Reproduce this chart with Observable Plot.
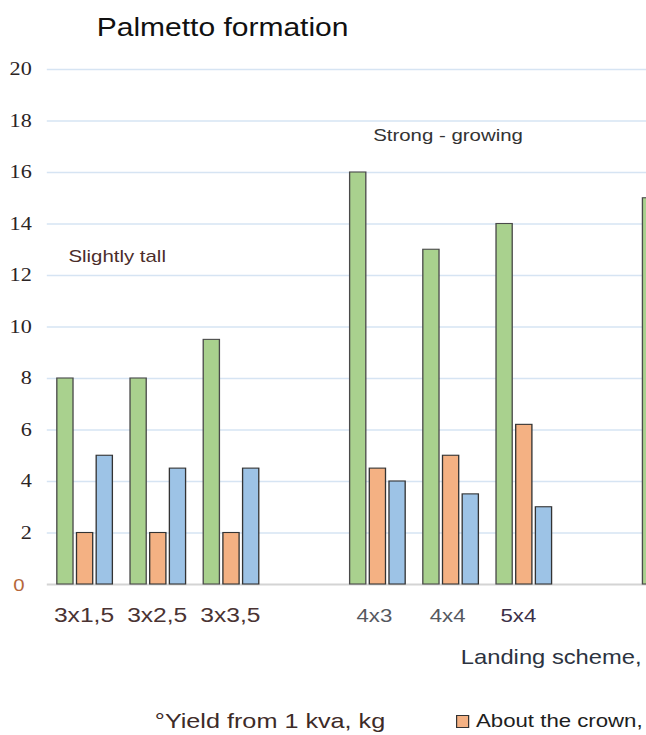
<!DOCTYPE html>
<html>
<head>
<meta charset="utf-8">
<script src="https://cdn.jsdelivr.net/npm/d3@7"></script>
<script src="https://cdn.jsdelivr.net/npm/@observablehq/plot@0.6"></script>
<style>
  html, body { margin: 0; padding: 0; overflow: hidden; background: #fff; width: 646px; height: 735px; }
  #wrap { position: absolute; left: 0; top: 0; width: 589px; height: 735px; transform: scaleX(1.2); transform-origin: 0 0; }
  .t { position: absolute; white-space: nowrap; font-family: "Liberation Sans", Arial, sans-serif; }
  #chart { position: absolute; left: 0; top: 45px; }
</style>
</head>
<body>
<div id="wrap">
  <div class="t" style="left:80.6px; top:15px; font-size:25px; line-height:25px; color:#111;">Palmetto formation</div>
  <div id="chart"></div>
  <div class="t" style="left:311px; top:127px; font-size:17px; line-height:17px; color:#333;">Strong - growing</div>
  <div class="t" style="left:57px; top:248px; font-size:17px; line-height:17px; color:#4b2d2b;">Slightly tall</div>
  <div class="t" style="left:384px; top:648px; font-size:19.8px; line-height:19.8px; color:#2c3340;">Landing scheme,</div>
  <div class="t" style="left:129px; top:710px; font-size:21px; line-height:21px; color:#3d2b28;">°Yield from 1 kva, kg</div>
  <div style="position:absolute; left:380px; top:715px; width:9px; height:11px; background:#f4b183; border:1px solid #333;"></div>
  <div class="t" style="left:396.7px; top:712px; font-size:18.5px; line-height:18.5px; color:#1e1e1e;">About the crown,</div>
</div>
<script>
// x slots (empty strings are the visual gaps between planting-scheme groups)
const slots = ["3x1,5", "3x2,5", "3x3,5", "", "4x3", "4x4", "5x4", " ", "…"];
const barGroups = ["3x1,5", "3x2,5", "3x3,5", "4x3", "4x4", "5x4", "…"];
const tickLabels = ["3x1,5", "3x2,5", "3x3,5", "4x3", "4x4", "5x4"];
const seriesNames = ["Yield from 1 kva, kg", "About the crown", "Between the rows"];
const yieldKg = [8, 8, 9.5, 16, 13, 14, 15];
const aboutCrown = [2, 2, 2, 4.5, 5, 6.2, null];
const thirdSeries = [5, 4.5, 4.5, 4, 3.5, 3, null];
const yTicks = [2, 4, 6, 8, 10, 12, 14, 16, 18, 20];

const rows = (vals) => barGroups.map((g, i) => ({group: g, value: vals[i]})).filter(d => d.value != null);

const inset = 23.75, step = 16.4;
const barStyle = {x: "group", y: "value", insetLeft: inset, insetRight: inset, stroke: "#333", strokeWidth: 1.1};
const labelStyle = {x: d => d, frameAnchor: "bottom", dy: 37, fontFamily: "Liberation Sans"};

const chart = Plot.plot({
  width: 589,
  height: 589,
  marginLeft: 39,
  marginRight: 0,
  marginTop: 24,
  marginBottom: 50,
  style: {fontFamily: "Liberation Sans", background: "transparent", overflow: "visible"},
  x: {type: "band", domain: slots, padding: 0, axis: null},
  y: {domain: [0, 20], axis: null},
  marks: [
    Plot.ruleY(yTicks, {stroke: "#d6e4f3", strokeWidth: 1.5}),
    Plot.ruleY([0], {stroke: "#d4d4d4", strokeWidth: 2}),
    Plot.barY(rows(yieldKg), {...barStyle, dx: -step, fill: "#a9d18e", stroke: "#4a4a4a"}),
    Plot.barY(rows(aboutCrown), {...barStyle, dx: 0, fill: "#f4b183"}),
    Plot.barY(rows(thirdSeries), {...barStyle, dx: step, fill: "#9dc3e6"}),
    // y tick labels, positioned by the y scale
    Plot.text(yTicks, {y: d => d, text: d => String(d), frameAnchor: "left", textAnchor: "end", dx: -13,
      fontFamily: "Liberation Serif", fontSize: 18.5, fill: "#2b2424"}),
    Plot.text([0], {y: d => d, text: d => String(d), frameAnchor: "left", textAnchor: "end", dx: -19, dy: 1,
      fontFamily: "Liberation Sans", fontSize: 17, fill: "#b5673b"}),
    Plot.text(tickLabels.slice(0, 3), {...labelStyle, dx: -1, fontSize: 20.5, fill: "#4a3333"}),
    Plot.text(tickLabels.slice(3, 5), {...labelStyle, dx: -3, fontSize: 18.5, fill: "#55585f"}),
    Plot.text(tickLabels.slice(5), {...labelStyle, dx: -5, fontSize: 18.5, fill: "#3b3048"})
  ]
});
document.getElementById("chart").appendChild(chart);
</script>
</body>
</html>
